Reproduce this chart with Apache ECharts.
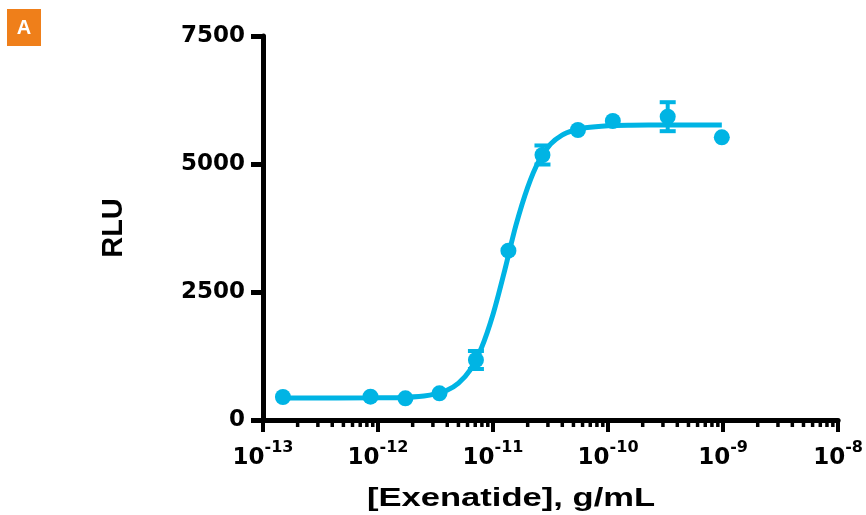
<!DOCTYPE html>
<html><head><meta charset="utf-8">
<script src="https://cdn.jsdelivr.net/npm/echarts@6/dist/echarts.min.js"></script>
<style>html,body{margin:0;padding:0;background:#fff}#c{width:866px;height:515px}</style>
</head><body><div id="c"></div>
<script>
// measured points (concentration g/mL, RLU, SEM)
const concentrations = [1.49e-13, 8.6e-13, 1.73e-12, 3.42e-12, 7.1e-12, 1.36e-11, 2.69e-11, 5.47e-11, 1.1e-10, 3.3e-10, 9.75e-10];
const rlu = [449, 455, 424, 521, 1172, 3307, 5176, 5664, 5840, 5924, 5521];
const rluError = [0, 0, 0, 0, 176, 0, 186, 0, 0, 283, 0];
// fitted curve
const fitConc = [1.49e-13, 1.0e-12, 1.58e-12, 2.51e-12, 3.16e-12, 3.98e-12, 5.01e-12, 6.31e-12, 7.94e-12, 1.0e-11, 1.26e-11, 1.58e-11, 2.0e-11, 2.51e-11, 3.16e-11, 3.98e-11, 5.01e-11, 6.31e-11, 1.0e-10, 1.58e-10, 3.16e-10, 9.75e-10];
const fitRlu = [430, 433, 440, 470, 509, 582, 722, 976, 1411, 2066, 2914, 3800, 4545, 5067, 5387, 5563, 5655, 5707, 5747, 5757, 5760, 5760];
// axes
const xMin = 1e-13, xMax = 1e-8;
const yTicks = [0, 2500, 5000, 7500];
const xTitle = '[Exenatide], g/mL';
const yTitle = 'RLU';
const panelLabel = 'A';

const COLOR = '#00b4e4';
const FONT = '"Liberation Sans", Arial, sans-serif';
const WIDE = '"DejaVu Sans", sans-serif';

const minorTickData = [];
for (let e = Math.round(Math.log10(xMin)); e < Math.round(Math.log10(xMax)); e++) {
  for (let k = 2; k <= 9; k++) minorTickData.push([k * Math.pow(10, e), 0]);
}
const errData = [];
concentrations.forEach((c, i) => { if (rluError[i] > 0) errData.push([c, rlu[i], rluError[i]]); });

const chart = echarts.init(document.getElementById('c'));
chart.setOption({
  animation: false,
  backgroundColor: '#fff',
  grid: { left: 263, right: 26, top: 36, bottom: 95, containLabel: false },
  xAxis: {
    type: 'log', logBase: 10, min: xMin, max: xMax, splitNumber: 5,
    axisLine: { show: true, lineStyle: { color: '#000', width: 5 } },
    axisTick: { show: true, length: 12, lineStyle: { color: '#000', width: 4 } },
    splitLine: { show: false },
    axisLabel: {
      margin: 20, color: '#000',
      formatter: v => '{b|10}{s|' + Math.round(Math.log10(v)) + '}',
      rich: {
        b: { fontSize: 23, fontWeight: 'bold', fontFamily: WIDE, color: '#000', lineHeight: 30, verticalAlign: 'bottom' },
        s: { fontSize: 16, fontWeight: 'bold', fontFamily: WIDE, color: '#000', lineHeight: 16, verticalAlign: 'top' }
      }
    }
  },
  yAxis: {
    type: 'value', min: yTicks[0], max: yTicks[yTicks.length - 1], interval: yTicks[1] - yTicks[0],
    axisLine: { show: true, lineStyle: { color: '#000', width: 5 } },
    axisTick: { show: true, length: 12, lineStyle: { color: '#000', width: 5 } },
    splitLine: { show: false },
    axisLabel: { margin: 18, color: '#000', fontSize: 23, fontWeight: 'bold', fontFamily: WIDE, formatter: v => String(v) }
  },
  graphic: [
    { type: 'rect', left: 7, top: 9, shape: { width: 34, height: 37 }, style: { fill: '#ef7f1a' } },
    { type: 'text', x: 24, y: 28, style: { text: panelLabel, fill: '#fff', font: 'bold 20px ' + FONT, textAlign: 'center', textVerticalAlign: 'middle' } },
    { type: 'text', x: 114, y: 228, rotation: Math.PI / 2, style: { text: yTitle, fill: '#000', font: 'bold 29px ' + FONT, textAlign: 'center', textVerticalAlign: 'middle' } },
    { type: 'text', x: 511, y: 499, scaleX: 1.33, style: { text: xTitle, fill: '#000', font: 'bold 26px ' + FONT, textAlign: 'center', textVerticalAlign: 'middle' } }
  ],
  series: [
    {
      type: 'custom', name: 'minorTicks', silent: true, clip: false,
      data: minorTickData,
      renderItem: (params, api) => {
        const p = api.coord([api.value(0), api.value(1)]);
        return { type: 'line', shape: { x1: p[0], y1: p[1], x2: p[0], y2: p[1] + 7 }, style: { stroke: '#000', lineWidth: 3.5 } };
      }
    },
    {
      type: 'line', data: fitConc.map((c, i) => [c, fitRlu[i]]), smooth: 0.3,
      showSymbol: false, symbol: 'none', lineStyle: { color: COLOR, width: 5 }, z: 2
    },
    {
      type: 'custom', name: 'errors', clip: false, z: 3,
      data: errData,
      renderItem: (params, api) => {
        const x = api.value(0), y = api.value(1), e = api.value(2);
        const top = api.coord([x, y + e]), bot = api.coord([x, y - e]);
        const w = 8;
        const st = { stroke: COLOR, lineWidth: 4 };
        return { type: 'group', children: [
          { type: 'line', shape: { x1: top[0], y1: top[1], x2: bot[0], y2: bot[1] }, style: st },
          { type: 'line', shape: { x1: top[0] - w, y1: top[1], x2: top[0] + w, y2: top[1] }, style: st },
          { type: 'line', shape: { x1: bot[0] - w, y1: bot[1], x2: bot[0] + w, y2: bot[1] }, style: st }
        ] };
      }
    },
    {
      type: 'scatter', data: concentrations.map((c, i) => [c, rlu[i]]),
      symbol: 'circle', symbolSize: 16, itemStyle: { color: COLOR, opacity: 1 }, z: 4
    }
  ]
});
</script></body></html>
